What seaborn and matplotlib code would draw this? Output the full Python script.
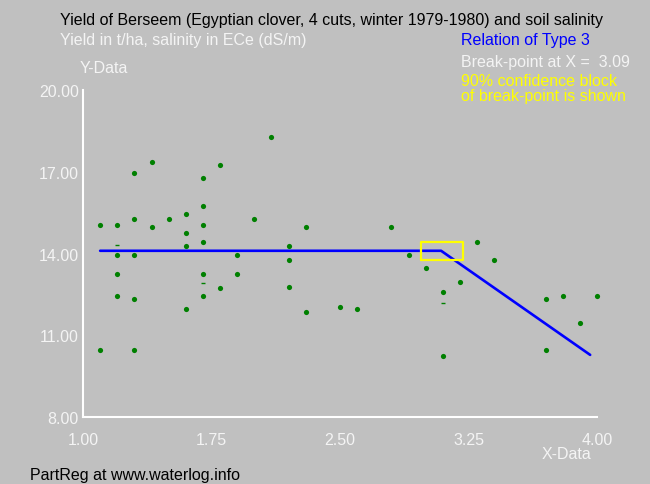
import seaborn as sns
import matplotlib.pyplot as plt
import pandas as pd

# salinity (ECe dS/m) and yield (t/ha)
x_data = [1.4, 1.3, 1.8, 1.7, 1.7, 1.1, 1.2, 1.3, 1.4, 1.5,
          1.6, 1.7, 1.6, 1.7, 1.6, 2.0, 1.2, 1.3, 1.9, 1.2,
          1.7, 1.9, 1.8, 1.2, 1.3, 1.7, 1.6, 1.1, 1.3, 2.1,
          2.3, 2.8, 2.2, 2.2, 2.9, 2.2, 2.3, 2.5, 2.6, 3.3,
          3.4, 3.0, 3.2, 3.1, 3.1, 3.7, 3.8, 4.0, 3.9, 3.7]
y_data = [17.37, 16.96, 17.26, 16.78, 15.76, 15.05, 15.05, 15.27, 14.97, 15.27,
          15.46, 15.05, 14.75, 14.44, 14.26, 15.27, 13.96, 13.96, 13.96, 13.25,
          13.25, 13.25, 12.75, 12.45, 12.34, 12.45, 11.97, 10.47, 10.47, 18.28,
          14.97, 14.97, 14.26, 13.77, 13.96, 12.76, 11.86, 12.04, 11.97, 14.44,
          13.76, 13.47, 12.94, 12.58, 10.25, 12.34, 12.45, 12.45, 11.44, 10.47]
# faint dashes seen in the picture
dash_x = [1.2, 1.7, 3.1]
dash_y = [14.32, 12.9, 12.2]

# broken-line fit
fit_x = [1.1, 3.09, 3.96]
fit_y = [14.1, 14.1, 10.28]
break_point = 3.09

# 90% confidence block
block_x = [2.97, 3.22, 3.22, 2.97, 2.97]
block_y = [13.76, 13.76, 14.44, 14.44, 13.76]

x_ticks = [1.00, 1.75, 2.50, 3.25, 4.00]
y_ticks = [8.0, 11.0, 14.0, 17.0, 20.0]

bg = '#c0c0c0'
light = '#f4f4f4'
sns.set_style('white')
plt.rcParams['font.family'] = ['Liberation Sans', 'DejaVu Sans']

fig = plt.figure(figsize=(6.5, 4.85), dpi=100, facecolor=bg)
ax = fig.add_axes([0.1277, 0.1381, 0.7908, 0.6743])
ax.set_facecolor(bg)

pts = pd.DataFrame({'x': x_data, 'y': y_data})
sns.lineplot(x=fit_x, y=fit_y, estimator=None, color='#0000ff', linewidth=1.9, ax=ax, zorder=3)
sns.lineplot(x=block_x, y=block_y, sort=False, estimator=None, color='#ffff00',
             linewidth=1.6, ax=ax, zorder=4)
sns.scatterplot(data=pts, x='x', y='y', color='#008000', s=14, linewidth=0, ax=ax, zorder=5, clip_on=False)
ax.scatter(dash_x, dash_y, marker='_', s=10, color='#008000', linewidths=1, zorder=5)

ax.set_xlim(1, 4)
ax.set_ylim(8, 20)
ax.set_xticks(x_ticks)
ax.set_yticks(y_ticks)
ax.set_xticklabels([f'{v:.2f}' for v in x_ticks])
ax.set_yticklabels([f'{v:.2f}' for v in y_ticks])
ax.set_xlabel('')
ax.set_ylabel('')
for side in ['top', 'right']:
    ax.spines[side].set_visible(False)
for side in ['left', 'bottom']:
    ax.spines[side].set_color('white')
    ax.spines[side].set_linewidth(1.5)
ax.tick_params(axis='both', direction='in', length=4, width=1.5, color='white',
               labelcolor=light, labelsize=11.5)
ax.tick_params(axis='x', pad=11)
ax.tick_params(axis='y', pad=3)

fs = 11.5
fig.text(60 / 650, 1 - 20 / 485, 'Yield of Berseem (Egyptian clover, 4 cuts, winter 1979-1980) and soil salinity',
         color='black', fontsize=fs, va='center')
fig.text(60 / 650, 1 - 41 / 485, 'Yield in t/ha, salinity in ECe (dS/m)', color=light, fontsize=fs, va='center')
fig.text(80 / 650, 1 - 69 / 485, 'Y-Data', color=light, fontsize=fs, va='center')
fig.text(461 / 650, 1 - 41 / 485, 'Relation of Type 3', color='#0000ff', fontsize=fs, va='center')
fig.text(461 / 650, 1 - 62 / 485, f'Break-point at X =  {break_point:.2f}', color=light, fontsize=fs, va='center')
fig.text(461 / 650, 1 - 82 / 485, '90% confidence block', color='#ffff00', fontsize=fs, va='center')
fig.text(461 / 650, 1 - 97 / 485, 'of break-point is shown', color='#ffff00', fontsize=fs, va='center')
fig.text(591 / 650, 1 - 455 / 485, 'X-Data', color=light, fontsize=fs, va='center', ha='right')
fig.text(30 / 650, 2 / 485, 'PartReg at www.waterlog.info', color='black', fontsize=fs, va='bottom')

fig.savefig('out.png', dpi=100, facecolor=bg)
